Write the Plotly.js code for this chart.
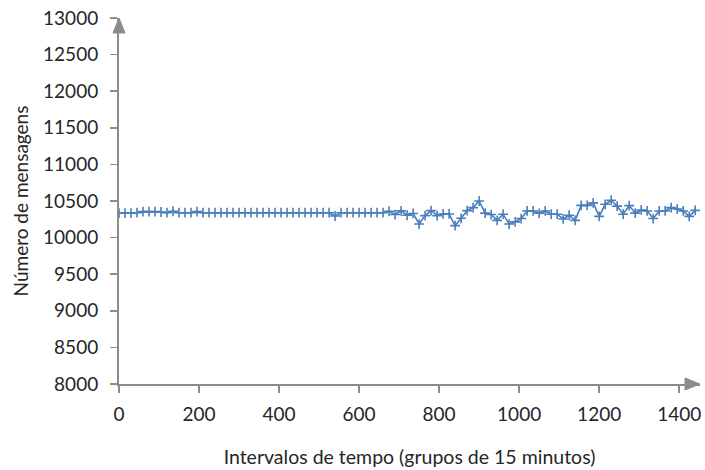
<!DOCTYPE html>
<html>
<head>
<meta charset="utf-8">
<script src="https://cdn.plot.ly/plotly-3.0.1.min.js"></script>
<style>html,body{margin:0;padding:0;background:#fff;}#chart{width:705px;height:470px;}</style>
</head>
<body>
<div id="chart"></div>
<script>
// Time intervals (groups of 15 minutes)
const intervals = [
  0, 15, 30, 45, 60, 75, 90, 105, 120, 135, 150, 165, 180, 195, 210, 225,
  240, 255, 270, 285, 300, 315, 330, 345, 360, 375, 390, 405, 420, 435, 450, 465,
  480, 495, 510, 525, 540, 555, 570, 585, 600, 615, 630, 645, 660, 675, 690, 705,
  720, 735, 750, 765, 780, 795, 810, 825, 840, 855, 870, 885, 900, 915, 930, 945,
  960, 975, 990, 1005, 1020, 1035, 1050, 1065, 1080, 1095, 1110, 1125, 1140, 1155, 1170, 1185,
  1200, 1215, 1230, 1245, 1260, 1275, 1290, 1305, 1320, 1335, 1350, 1365, 1380, 1395, 1410, 1425, 1440
];
// Number of messages
const messages = [
  10335, 10335, 10335, 10340, 10355, 10355, 10355, 10350, 10340, 10360, 10340, 10340, 10340, 10355, 10340, 10340,
  10340, 10340, 10340, 10340, 10340, 10340, 10340, 10340, 10340, 10340, 10340, 10340, 10340, 10340, 10340, 10340,
  10340, 10340, 10340, 10340, 10295, 10340, 10340, 10340, 10340, 10340, 10340, 10340, 10340, 10360, 10315, 10365,
  10305, 10330, 10185, 10300, 10368, 10300, 10323, 10323, 10164, 10264, 10368, 10410, 10500, 10335, 10315, 10235,
  10320, 10185, 10215, 10260, 10364, 10364, 10332, 10364, 10320, 10320, 10255, 10305, 10235, 10440, 10440, 10475,
  10290, 10455, 10510, 10430, 10320, 10437, 10335, 10378, 10364, 10260, 10364, 10364, 10410, 10390, 10364, 10290, 10372
];
const yTicks = [8000, 8500, 9000, 9500, 10000, 10500, 11000, 11500, 12000, 12500, 13000];
const xTicks = [0, 200, 400, 600, 800, 1000, 1200, 1400];

const axisGray = '#8c8c8c';
const textColor = '#262626';
const fontFam = 'Lato, "Open Sans", sans-serif';

const trace = {
  x: intervals,
  y: messages,
  type: 'scatter',
  mode: 'lines+markers',
  line: {color: '#4a7ebb', width: 1.6},
  marker: {symbol: 'cross-thin', size: 7, color: '#4a7ebb', line: {color: '#4a7ebb', width: 1.6}},
  hoverinfo: 'x+y',
  showlegend: false
};

const W = 581, H = 366;
const layout = {
  width: 705,
  height: 470,
  margin: {l: 119, r: 5, t: 18, b: 86},
  paper_bgcolor: '#ffffff',
  plot_bgcolor: '#ffffff',
  font: {family: fontFam, size: 19, color: textColor},
  xaxis: {
    range: [0, 1452],
    tickvals: xTicks,
    ticktext: xTicks.map(String),
    showgrid: false,
    zeroline: false,
    showline: true,
    linecolor: axisGray,
    linewidth: 2,
    ticks: 'outside',
    ticklen: 7,
    tickwidth: 1.5,
    tickcolor: axisGray,
    ticklabelstandoff: 5,
    tickfont: {family: fontFam, size: 19, color: textColor},
    title: {text: 'Intervalos de tempo (grupos de 15 minutos)', font: {family: fontFam, size: 19.5, color: textColor}, standoff: 27},
    automargin: false
  },
  yaxis: {
    range: [8000, 13000],
    tickvals: yTicks,
    ticktext: yTicks.map(String),
    showgrid: false,
    zeroline: false,
    showline: true,
    linecolor: axisGray,
    linewidth: 2,
    ticks: 'outside',
    ticklen: 7,
    tickwidth: 1.5,
    tickcolor: axisGray,
    ticklabelstandoff: 8,
    tickfont: {family: fontFam, size: 19, color: textColor},
    title: {text: 'Número de mensagens', font: {family: fontFam, size: 19, color: textColor}, standoff: 9},
    automargin: false
  },
  shapes: [
    {type: 'path', xref: 'paper', yref: 'paper',
     path: `M ${-6/W} ${1-15/H} L ${6/W} ${1-15/H} L 0 1 Z`,
     fillcolor: axisGray, line: {color: axisGray, width: 1}},
    {type: 'path', xref: 'paper', yref: 'paper',
     path: `M ${1-15/W} ${6/H} L ${1-15/W} ${-6/H} L 1 0 Z`,
     fillcolor: axisGray, line: {color: axisGray, width: 1}}
  ]
};

Plotly.newPlot('chart', [trace], layout, {displayModeBar: false, staticPlot: true});
</script>
</body>
</html>
